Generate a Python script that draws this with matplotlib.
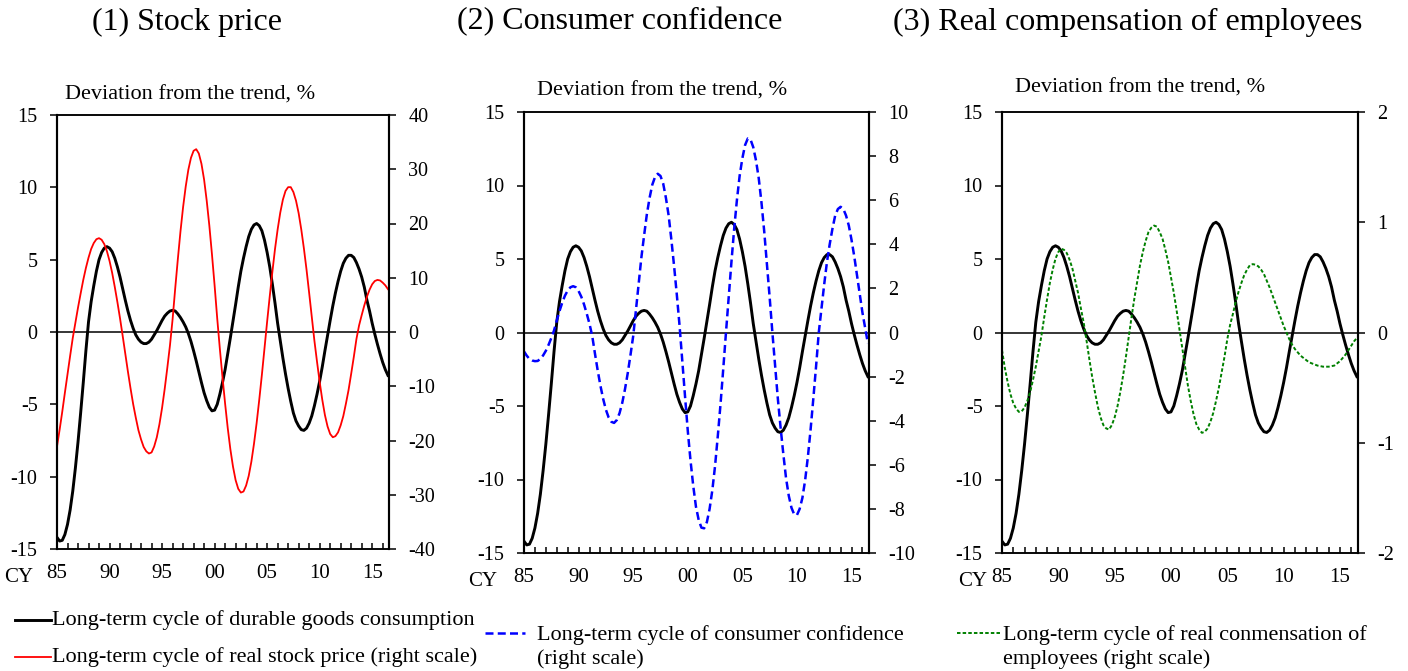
import numpy as np
import matplotlib.pyplot as plt
from matplotlib.lines import Line2D
from matplotlib.ticker import MultipleLocator

plt.rcParams['font.family'] = ['Liberation Serif', 'DejaVu Serif']
plt.rcParams['axes.unicode_minus'] = False

# quarterly points, CY1985 - CY2016 (8 values = 2 years per row)
years = np.arange(1985.0, 2016.51, 0.25)

durable = [
    -14.2, -14.45, -14.4, -14.0, -13.3, -12.3, -11.0, -9.4,
    -7.6, -5.6, -3.5, -1.3, 0.7, 2.1, 3.2, 4.2,
    5.0, 5.5, 5.8, 5.9, 5.8, 5.55, 5.1, 4.5,
    3.8, 3.0, 2.2, 1.45, 0.8, 0.25, -0.2, -0.5,
    -0.7, -0.8, -0.8, -0.7, -0.5, -0.2, 0.1, 0.45,
    0.8, 1.1, 1.3, 1.45, 1.5, 1.45, 1.25, 1.0,
    0.7, 0.35, -0.1, -0.65, -1.3, -2.0, -2.75, -3.5,
    -4.2, -4.75, -5.2, -5.45, -5.4, -5.0, -4.3, -3.5,
    -2.6, -1.5, -0.4, 0.75, 1.9, 3.1, 4.2, 5.1,
    5.9, 6.6, 7.1, 7.4, 7.5, 7.35, 7.0, 6.35,
    5.5, 4.5, 3.3, 2.0, 0.6, -0.6, -1.8, -2.9,
    -3.9, -4.8, -5.6, -6.15, -6.5, -6.75, -6.8, -6.65,
    -6.3, -5.8, -5.1, -4.3, -3.4, -2.4, -1.3, -0.25,
    0.8, 1.8, 2.7, 3.5, 4.2, 4.75, 5.1, 5.3,
    5.3, 5.15, 4.8, 4.35, 3.8, 3.1, 2.2, 1.45,
    0.6, -0.15, -0.85, -1.5, -2.1, -2.6, -3.0,
]
stock = [
    -21.1, -18.0, -14.7, -11.2, -7.8, -4.4, -1.1, 1.7,
    4.5, 7.1, 9.6, 11.8, 13.7, 15.3, 16.4, 17.1,
    17.3, 17.0, 16.2, 14.9, 13.1, 10.9, 8.3, 5.5,
    2.5, -0.7, -4.0, -7.3, -10.4, -13.3, -15.8, -18.1,
    -19.8, -21.2, -22.0, -22.4, -22.2, -21.1, -19.4, -17.0,
    -14.0, -10.5, -6.6, -2.5, 2.3, 8.0, 13.4, 18.5,
    23.0, 26.8, 29.9, 32.1, 33.4, 33.7, 32.9, 31.0,
    28.1, 24.2, 19.6, 14.3, 8.6, 2.5, -3.1, -8.3,
    -13.2, -17.7, -21.6, -24.8, -27.3, -28.9, -29.6, -29.4,
    -28.3, -26.5, -23.9, -20.6, -16.8, -12.5, -7.9, -3.0,
    1.9, 6.6, 11.1, 15.3, 18.9, 22.0, 24.4, 26.0,
    26.7, 26.7, 25.8, 24.2, 21.9, 18.9, 15.4, 11.5,
    7.2, 2.8, -1.6, -5.5, -9.2, -12.5, -15.3, -17.4,
    -18.8, -19.4, -19.2, -18.5, -17.2, -15.5, -13.2, -10.7,
    -7.7, -4.6, -1.3, 1.2, 3.1, 4.9, 6.5, 7.8,
    8.8, 9.4, 9.6, 9.5, 9.1, 8.6, 7.9,
]
confidence = [
    -0.86, -1.05, -1.2, -1.27, -1.3, -1.29, -1.2, -1.04,
    -0.83, -0.56, -0.25, 0.09, 0.54, 0.97, 1.35, 1.67,
    1.9, 2.05, 2.1, 2.05, 1.88, 1.62, 1.27, 0.85,
    0.39, -0.16, -0.96, -1.72, -2.41, -3.01, -3.5, -3.85,
    -4.05, -4.1, -3.97, -3.66, -3.19, -2.57, -1.85, -1.03,
    -0.17, 1.0, 2.2, 3.4, 4.4, 5.35, 6.1, 6.7,
    7.05, 7.2, 7.1, 6.75, 6.1, 5.3, 4.2, 3.0,
    1.7, 0.3, -1.3, -2.9, -4.45, -5.8, -6.95, -7.9,
    -8.5, -8.85, -8.88, -8.6, -8.0, -7.15, -6.05, -4.7,
    -3.25, -1.65, 0.0, 1.6, 3.2, 4.7, 6.0, 7.1,
    7.9, 8.5, 8.8, 8.75, 8.4, 7.8, 7.0, 5.9,
    4.6, 3.1, 1.6, 0.0, -1.5, -3.0, -4.3, -5.5,
    -6.6, -7.4, -7.95, -8.25, -8.28, -8.0, -7.5, -6.7,
    -5.65, -4.4, -3.0, -1.55, 0.0, 1.1, 2.2, 3.2,
    4.0, 4.7, 5.3, 5.6, 5.7, 5.6, 5.3, 4.85,
    4.2, 3.45, 2.6, 1.75, 0.9, 0.2, -0.5,
]
compensation = [
    -0.16, -0.32, -0.45, -0.56, -0.64, -0.69, -0.72, -0.715,
    -0.68, -0.62, -0.54, -0.43, -0.31, -0.17, -0.03, 0.14,
    0.3, 0.45, 0.57, 0.67, 0.73, 0.76, 0.75, 0.72,
    0.66, 0.58, 0.47, 0.36, 0.22, 0.09, -0.07, -0.24,
    -0.4, -0.54, -0.67, -0.77, -0.84, -0.87, -0.88, -0.84,
    -0.77, -0.67, -0.54, -0.39, -0.22, -0.04, 0.14, 0.31,
    0.46, 0.61, 0.73, 0.83, 0.91, 0.95, 0.97, 0.96,
    0.91, 0.85, 0.75, 0.64, 0.5, 0.36, 0.2, 0.03,
    -0.14, -0.31, -0.48, -0.62, -0.74, -0.83, -0.88, -0.91,
    -0.9, -0.87, -0.81, -0.73, -0.62, -0.5, -0.36, -0.22,
    -0.06, 0.07, 0.17, 0.28, 0.37, 0.45, 0.52, 0.57,
    0.61, 0.62, 0.615, 0.6, 0.57, 0.53, 0.47, 0.41,
    0.34, 0.27, 0.2, 0.13, 0.06, 0.0, -0.06, -0.11,
    -0.15, -0.18, -0.21, -0.23, -0.25, -0.27, -0.28, -0.29,
    -0.3, -0.305, -0.31, -0.31, -0.31, -0.305, -0.3, -0.28,
    -0.26, -0.23, -0.2, -0.16, -0.12, -0.08, -0.05,
]

year_ticks = [1985, 1990, 1995, 2000, 2005, 2010, 2015]
year_labels = ['85', '90', '95', '00', '05', '10', '15']

W, H = 1408, 671
fig = plt.figure(figsize=(W / 100, H / 100), dpi=100)


def px(x, y):
    return x / W, 1 - y / H


BLUE_DASH = (0, (3.2, 1.7))
GREEN_DASH = (0, (1.8, 1.1))

panels = [
    dict(title='(1) Stock price', title_x=187, box=(57, 115, 389, 549),
         series=stock, color='red', ls='-', lw=1.3,
         rlim=(-40, 40), rstep=10, note=(65, 95), cy_x=33),
    dict(title='(2) Consumer confidence', title_x=620, box=(524, 112, 869, 553),
         series=confidence, color='blue', ls=BLUE_DASH, lw=1.8,
         rlim=(-10, 10), rstep=2, note=(537, 91), cy_x=497),
    dict(title='(3) Real compensation of employees', title_x=1128, box=(1002, 112, 1358, 553),
         series=compensation, color='green', ls=GREEN_DASH, lw=1.4,
         rlim=(-2, 2), rstep=1, note=(1015, 88), cy_x=987),
]

for p in panels:
    x0, y0, x1, y1 = p['box']
    ax = fig.add_axes([x0 / W, 1 - y1 / H, (x1 - x0) / W, (y1 - y0) / H])
    ax2 = ax.twinx()

    ax.axhline(0, color='black', lw=1.1, zorder=1)
    ax.plot(years, durable, color='black', lw=2.1, zorder=3)
    ax2.plot(years, p['series'], color=p['color'], ls=p['ls'], lw=p['lw'])

    ax.set_xlim(1985, 2016.6)
    ax.set_ylim(-15, 15)
    ax.set_yticks(np.arange(-15, 16, 5))
    lo, hi = p['rlim']
    ax2.set_ylim(lo, hi)
    ax2.set_yticks(np.arange(lo, hi + p['rstep'] / 2, p['rstep']))

    ax.set_xticks(year_ticks, year_labels)
    ax.xaxis.set_minor_locator(MultipleLocator(1))
    ax.tick_params(axis='x', which='both', direction='in', length=4.5, width=1.1,
                   labelsize=15, pad=11)
    ax.tick_params(axis='y', direction='out', length=5, width=1.1, labelsize=14.5, pad=9)
    ax2.tick_params(axis='y', direction='out', length=5, width=1.1, labelsize=14.5, pad=9)

    for a in (ax, ax2):
        for side in ('left', 'right'):
            a.spines[side].set_linewidth(1.5)
        for side in ('top', 'bottom'):
            a.spines[side].set_linewidth(1.1)

    fig.text(*px(p['title_x'], 22), p['title'], ha='center', va='center', fontsize=23)
    fig.text(*px(*p['note']), 'Deviation from the trend, %', ha='left', va='center', fontsize=16)
    fig.text(*px(p['cy_x'], y1 + 28), 'CY', ha='right', va='center', fontsize=15)


def legend_entry(xa, xb, y, text, tx, ty=None, **kw):
    fig.add_artist(Line2D([xa / W, xb / W], [1 - y / H, 1 - y / H], **kw))
    fig.text(*px(tx, y if ty is None else ty), text, ha='left', va='center',
             fontsize=16, linespacing=1.35)


legend_entry(15, 51, 620, 'Long-term cycle of durable goods consumption', 52,
             color='black', lw=2.1)
legend_entry(15, 51, 657, 'Long-term cycle of real stock price (right scale)', 52,
             color='red', lw=1.3)
legend_entry(485, 525, 633, 'Long-term cycle of consumer confidence\n(right scale)', 537, ty=647,
             color='blue', lw=1.8, ls=BLUE_DASH)
legend_entry(957, 1000, 633, 'Long-term cycle of real conmensation of\nemployees (right scale)', 1003,
             ty=647, color='green', lw=1.4, ls=GREEN_DASH)

fig.savefig('out.png', dpi=100)
